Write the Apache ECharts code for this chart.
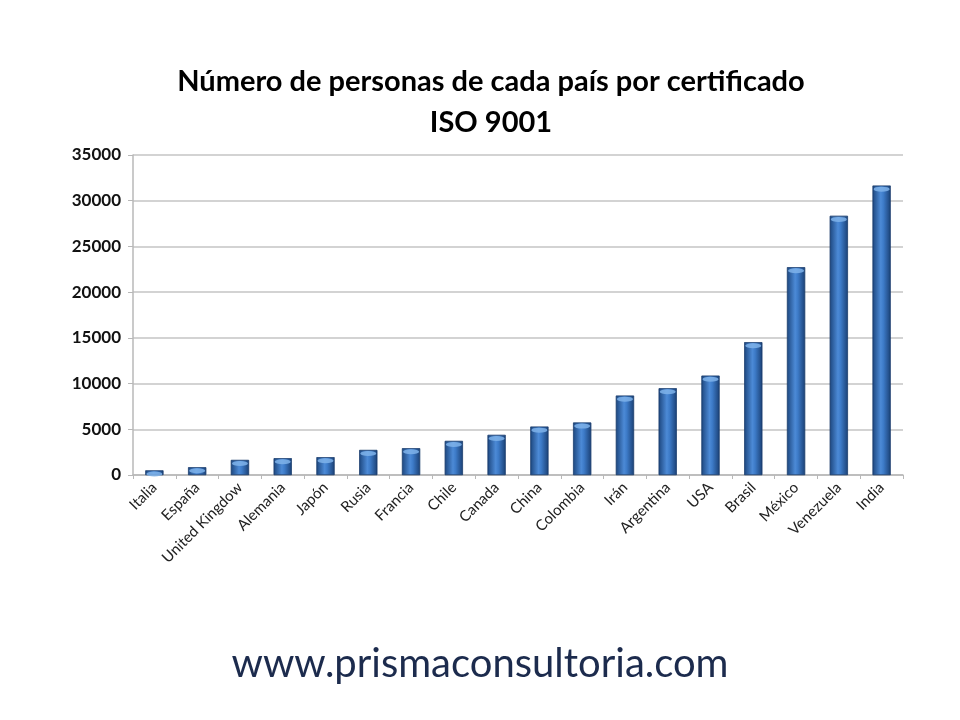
<!DOCTYPE html>
<html>
<head>
<meta charset="utf-8">
<script src="https://cdn.jsdelivr.net/npm/echarts@6/dist/echarts.min.js"></script>
<style>
  html, body { margin: 0; padding: 0; background: #fff; }
  #main { width: 960px; height: 720px; }
</style>
</head>
<body>
<div id="main"></div>
<script>
var paises = ['Italia', 'España', 'United Kingdow', 'Alemania', 'Japón', 'Rusia', 'Francia',
    'Chile', 'Canada', 'China', 'Colombia', 'Irán', 'Argentina', 'USA', 'Brasil',
    'México', 'Venezuela', 'India'];
var personas = [500, 840, 1640, 1830, 1940, 2730, 2920, 3720, 4380, 5290, 5730,
    8680, 9480, 10860, 14520, 22720, 28340, 31650];
var ejeMin = 0, ejeMax = 35000, ejePaso = 5000;

var chart = echarts.init(document.getElementById('main'));

var cuerpo = new echarts.graphic.LinearGradient(0, 0, 1, 0, [
    { offset: 0, color: '#1d477f' },
    { offset: 0.45, color: '#4c8ad6' },
    { offset: 0.6, color: '#3d7bc8' },
    { offset: 1, color: '#1b4176' }
]);

option = {
    backgroundColor: '#fff',
    title: {
        text: 'Número de personas de cada país por certificado\nISO 9001',
        left: 486,
        textAlign: 'center',
        top: 56,
        textStyle: {
            fontFamily: 'Lato',
            fontWeight: 'bold',
            fontSize: 29,
            lineHeight: 41,
            color: '#000'
        }
    },
    graphic: [{
        type: 'text',
        left: 'center',
        top: 644,
        style: {
            text: 'www.prismaconsultoria.com',
            font: '40px Lato',
            fill: '#1c2b4d'
        }
    }],
    grid: { left: 133, right: 57, top: 155, bottom: 245 },
    xAxis: {
        type: 'category',
        data: paises,
        axisLine: { lineStyle: { color: '#b8b8b8', width: 1.5 } },
        axisTick: { show: true, length: 4, lineStyle: { color: '#b8b8b8' } },
        axisLabel: {
            rotate: 45,
            interval: 0,
            margin: 10,
            fontFamily: 'Lato',
            fontSize: 15,
            color: '#222'
        }
    },
    yAxis: {
        type: 'value',
        min: ejeMin,
        max: ejeMax,
        interval: ejePaso,
        axisLine: { show: true, lineStyle: { color: '#b8b8b8', width: 1.5 } },
        axisTick: { show: true, length: 5, lineStyle: { color: '#b8b8b8' } },
        splitLine: { lineStyle: { color: '#c4c4c4', width: 1.5 } },
        axisLabel: {
            margin: 12,
            fontFamily: 'Lato',
            fontWeight: 'bold',
            fontSize: 17,
            color: '#111',
            formatter: function (v) { return String(v); }
        }
    },
    series: [
        {
            type: 'bar',
            data: personas,
            barWidth: 18,
            itemStyle: { color: cuerpo, borderColor: '#1a3c6c', borderWidth: 0.5 },
            silent: true,
            z: 2
        },
        {
            // tapa superior del cilindro
            type: 'pictorialBar',
            data: personas,
            symbol: 'circle',
            symbolSize: [16, 5],
            symbolPosition: 'end',
            symbolOffset: [0, 1],
            itemStyle: { color: '#7fb3ea', opacity: 0.85 },
            barGap: '-100%',
            silent: true,
            z: 3
        }
    ]
};

chart.setOption(option);
</script>
</body>
</html>
